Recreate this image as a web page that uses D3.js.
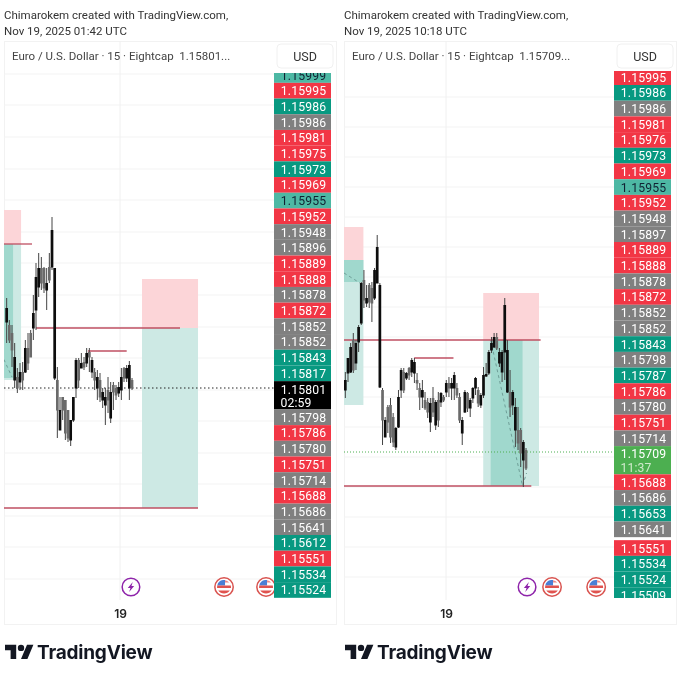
<!DOCTYPE html>
<html>
<head>
<meta charset="utf-8">
<script src="https://cdn.jsdelivr.net/npm/d3@7"></script>
<style>
  body { margin: 0; background: #fff; }
  svg { filter: blur(0.3px); }
  text { font-family: Roboto, Inter, sans-serif; }
</style>
</head>
<body>
<svg width="680" height="680"></svg>
<script>
// left snapshot, candles
var leftOpen = [1.15867,1.15864,1.15856,1.15809,1.15812,1.15807,1.15817,1.15817,1.15841,1.15856,1.15861,1.15879,1.15902,1.15921,1.15921,1.15899,1.15922,1.15922,1.15811,1.15809,1.15759,1.15792,1.15789,1.15779,1.15749,1.15769,1.15801,1.15829,1.15821,1.15827,1.15826,1.15837,1.15817,1.15817,1.15801,1.15809,1.15789,1.15784,1.15799,1.15771,1.15804,1.15801,1.15796,1.15799,1.15821,1.15811,1.15801,1.15809];
var leftHigh = [1.15891,1.15869,1.15864,1.15846,1.15821,1.15826,1.15827,1.15849,1.15856,1.15859,1.15894,1.15926,1.15936,1.15932,1.15922,1.15921,1.15936,1.15972,1.15921,1.15822,1.15792,1.15792,1.15789,1.15779,1.15769,1.15792,1.15831,1.15831,1.15836,1.15832,1.15841,1.15841,1.15832,1.15821,1.15819,1.15816,1.15801,1.15801,1.15812,1.15807,1.15807,1.15804,1.15807,1.15821,1.15822,1.15824,1.15828,1.15811];
var leftLow = [1.15846,1.15846,1.15822,1.15801,1.15796,1.15799,1.15799,1.15816,1.15819,1.15832,1.15849,1.15859,1.15892,1.15899,1.15896,1.15879,1.15906,1.15919,1.15809,1.15751,1.15759,1.15769,1.15749,1.15747,1.15743,1.15767,1.15791,1.15801,1.15821,1.15819,1.15822,1.15817,1.15811,1.15799,1.15789,1.15787,1.15781,1.15764,1.15776,1.15766,1.15779,1.15789,1.15792,1.15789,1.15807,1.15807,1.15789,1.15799];
var leftClose = [1.15881,1.15849,1.15839,1.15832,1.15801,1.15817,1.15809,1.15841,1.15826,1.15832,1.15876,1.15912,1.15921,1.15906,1.15901,1.15906,1.15909,1.15959,1.15921,1.15779,1.15779,1.15779,1.15756,1.15751,1.15769,1.15792,1.15829,1.15809,1.15826,1.15822,1.15836,1.15832,1.15829,1.15809,1.15812,1.15792,1.15797,1.15792,1.15789,1.15797,1.15797,1.15794,1.15802,1.15812,1.15811,1.15821,1.15824,1.15801];

// right snapshot, candles
var rightOpen = [1.15771,1.15788,1.15789,1.15821,1.15798,1.15819,1.15838,1.15881,1.15858,1.15876,1.15873,1.15863,1.15878,1.15774,1.15771,1.15724,1.15754,1.15756,1.15744,1.15714,1.15734,1.15771,1.15789,1.15783,1.15793,1.15789,1.15788,1.15781,1.15773,1.15764,1.15761,1.15759,1.15739,1.15763,1.15736,1.15761,1.15759,1.15764,1.15769,1.15778,1.15773,1.15773,1.15773,1.15764,1.15728,1.15749,1.15768,1.15753,1.15763,1.15773,1.15771,1.15756,1.15766,1.15785,1.15788,1.15811,1.15814,1.15824,1.15798,1.15789,1.15809,1.15769,1.15769,1.15756,1.15731,1.15731,1.15731,1.15701,1.15711];
var rightHigh = [1.15789,1.15803,1.15818,1.15828,1.15821,1.15836,1.15879,1.15891,1.15876,1.15878,1.15879,1.15893,1.15926,1.15878,1.15773,1.15744,1.15756,1.15763,1.15748,1.15734,1.15771,1.15793,1.15793,1.15789,1.15794,1.15803,1.15803,1.15788,1.15778,1.15781,1.15769,1.15763,1.15763,1.15774,1.15761,1.15769,1.15769,1.15766,1.15781,1.15784,1.15783,1.15789,1.15778,1.15768,1.15744,1.15771,1.15769,1.15763,1.15774,1.15784,1.15774,1.15768,1.15794,1.15798,1.15811,1.15824,1.15828,1.15828,1.15813,1.15811,1.15863,1.15821,1.15791,1.15771,1.15763,1.15754,1.15733,1.15721,1.15713];
var rightLow = [1.15763,1.15779,1.15788,1.15788,1.15791,1.15809,1.15836,1.15853,1.15854,1.15853,1.15839,1.15861,1.15878,1.15773,1.15716,1.15724,1.15728,1.15718,1.15714,1.15711,1.15733,1.15763,1.15768,1.15781,1.15781,1.15784,1.15778,1.15771,1.15751,1.15753,1.15751,1.15743,1.15729,1.15744,1.15731,1.15734,1.15754,1.15759,1.15764,1.15764,1.15761,1.15761,1.15763,1.15738,1.15716,1.15748,1.15749,1.15744,1.15758,1.15766,1.15754,1.15753,1.15763,1.15784,1.15786,1.15808,1.15813,1.15811,1.15794,1.15779,1.15781,1.15768,1.15744,1.15746,1.15714,1.15711,1.15694,1.15674,1.15691];
var rightClose = [1.15781,1.15803,1.15814,1.15791,1.15818,1.15834,1.15878,1.15861,1.15863,1.15859,1.15858,1.15891,1.15914,1.15876,1.15741,1.15741,1.15739,1.15724,1.15719,1.15733,1.15764,1.15791,1.15771,1.15788,1.15786,1.15801,1.15799,1.15778,1.15764,1.15771,1.15753,1.15749,1.15758,1.15749,1.15759,1.15741,1.15768,1.15761,1.15778,1.15773,1.15778,1.15786,1.15766,1.15741,1.15741,1.15769,1.15753,1.15761,1.15773,1.15783,1.15758,1.15766,1.15786,1.15787,1.15809,1.15818,1.15824,1.15813,1.15809,1.15809,1.15856,1.15811,1.15754,1.15769,1.15754,1.15718,1.15708,1.15719,1.15693];

// price labels on the axis (t = teal, r = red, g = grey, l = light teal, k = black now, n = green now)
var leftTags = ["1.15999","1.15995","1.15986","1.15986","1.15981","1.15975","1.15973","1.15969","1.15955","1.15952","1.15948","1.15896","1.15889","1.15888","1.15878","1.15872","1.15852","1.15852","1.15843","1.15817","1.15801","1.15798","1.15786","1.15780","1.15751","1.15714","1.15688","1.15686","1.15641","1.15612","1.15551","1.15534","1.15524"];
var leftKinds = "lrtgrrtrlrggrrgrggttkgrgrgrggtrtt".split("");
var rightTags = ["1.15995","1.15986","1.15986","1.15981","1.15976","1.15973","1.15969","1.15955","1.15952","1.15948","1.15897","1.15889","1.15888","1.15878","1.15872","1.15852","1.15852","1.15843","1.15798","1.15787","1.15786","1.15780","1.15751","1.15714","1.15709","1.15688","1.15686","1.15653","1.15641","1.15551","1.15534","1.15524","1.15509"];
var rightKinds = "rtgrrtrlrggrrgrggtgtrgrgnrgtgrttt".split("");

// grid prices
var leftGrid = [1.16115,1.16084,1.16052,1.16020,1.15989,1.15957,1.15926,1.15894,1.15862,1.15831,1.15799,1.15768,1.15736,1.15705,1.15673,1.15642,1.15610];
var rightGrid = [1.16064,1.16034,1.16004,1.15974,1.15944,1.15914,1.15884,1.15854,1.15824,1.15794,1.15764,1.15734,1.15704,1.15674,1.15644,1.15614,1.15584];

// drawings: [bar from, bar to, price top, price bottom]
var leftRedBoxes = [[-2,5.4,1.15979,1.15945],[50.75,71.75,1.15910,1.15861]];
var leftTealBoxes = [[-2,5.4,1.15945,1.15809],[50.75,71.75,1.15861,1.15681]];
var leftDarkBoxes = [[-2,2.4,1.15945,1.15811]];
var leftLines = [[-2,9.5,1.15945],[11,65,1.15861],[30.5,45,1.15838],[-2,71.75,1.15681]];
var leftDashes = [[[-2,1.15835],[2,1.15812]]];
var rightRedBoxes = [[-0.5,6.8,1.15934,1.15901],[51.9,72.9,1.15868,1.15821]];
var rightTealBoxes = [[-0.5,6.8,1.15901,1.15756],[51.9,72.9,1.15821,1.15675]];
var rightDarkBoxes = [[-0.5,6.8,1.15901,1.15879],[54.7,66.7,1.15821,1.15675]];
var rightLines = [[-0.5,73.5,1.15821],[25.9,40.7,1.15803],[-0.5,70,1.15675]];
var rightDashes = [[[-0.5,1.15888],[5.5,1.15878]],[[54.7,1.15821],[66.7,1.15675],[68.2,1.15688]]];

var panelColors = {t: "#089981", r: "#f23645", g: "#808080", l: "#4db8a4", k: "#000000", n: "#4caf50"};
var svg = d3.select("svg");

function drawPanel(o) {
  var x = d3.scaleLinear().domain([0, 100]).range([o.x0, o.x0 + 100 * o.step]);
  var y = d3.scaleLinear().domain([o.priceTop, o.priceTop - 0.006]).range([0, 600]);
  var tagX = o.left + 270;

  var clipId = "clip" + o.left;
  svg.append("clipPath").attr("id", clipId).append("rect")
      .attr("x", o.left).attr("y", 41).attr("width", 270).attr("height", 560);
  svg.append("clipPath").attr("id", clipId + "t").append("rect")
      .attr("x", tagX).attr("y", o.tagClip).attr("width", 57).attr("height", 598 - o.tagClip);

  // frame
  svg.append("rect")
      .attr("x", o.left + 0.5).attr("y", 41.5).attr("width", 332).attr("height", 583)
      .attr("fill", "none").attr("stroke", "#f2f2f2");

  var g = svg.append("g").attr("clip-path", "url(#" + clipId + ")");

  g.selectAll(".grid").data(o.grid).enter().append("line")
      .attr("x1", o.left).attr("x2", tagX)
      .attr("y1", function(d) { return y(d); }).attr("y2", function(d) { return y(d); })
      .attr("stroke", "#f3f3f3");

  g.append("line")
      .attr("x1", x(o.dayBar)).attr("x2", x(o.dayBar))
      .attr("y1", 41).attr("y2", 600)
      .attr("stroke", "#f0f0f0");

  function boxes(list, fill) {
    g.selectAll(null).data(list).enter().append("rect")
        .attr("x", function(d) { return x(d[0]); })
        .attr("width", function(d) { return x(d[1]) - x(d[0]); })
        .attr("y", function(d) { return y(d[2]); })
        .attr("height", function(d) { return y(d[3]) - y(d[2]); })
        .attr("fill", fill);
  }
  boxes(o.redBoxes, "#fcd5d8");
  boxes(o.tealBoxes, "#cde9e4");
  boxes(o.darkBoxes, "#a0d8cd");

  var dash = d3.line().x(function(d) { return x(d[0]); }).y(function(d) { return y(d[1]); });
  g.selectAll(null).data(o.dashes).enter().append("path")
      .attr("d", dash)
      .attr("fill", "none")
      .attr("stroke", "#6f9f98")
      .attr("stroke-dasharray", "3,3");

  g.selectAll(null).data(o.lines).enter().append("line")
      .attr("x1", function(d) { return x(d[0]); })
      .attr("x2", function(d) { return x(d[1]); })
      .attr("y1", function(d) { return y(d[2]); })
      .attr("y2", function(d) { return y(d[2]); })
      .attr("stroke", "#bf4f62")
      .attr("stroke-width", 1.3);

  // last price
  g.append("line")
      .attr("x1", o.left).attr("x2", tagX)
      .attr("y1", y(o.lastPrice)).attr("y2", y(o.lastPrice))
      .attr("stroke", o.lastColor)
      .attr("stroke-dasharray", o.lastDash);

  // candles
  var bars = d3.range(o.open.length);
  var candleColor = function(i) { return o.close[i] >= o.open[i] ? "#0d0d0d" : "#6a6a6a"; };
  g.selectAll(null).data(bars).enter().append("line")
      .attr("x1", function(i) { return x(i); }).attr("x2", function(i) { return x(i); })
      .attr("y1", function(i) { return y(o.high[i]); })
      .attr("y2", function(i) { return y(o.low[i]); })
      .attr("stroke", "#444");
  g.selectAll(null).data(bars).enter().append("rect")
      .attr("x", function(i) { return x(i) - 1.35; })
      .attr("width", 2.7)
      .attr("y", function(i) { return y(Math.max(o.open[i], o.close[i])); })
      .attr("height", function(i) { return Math.abs(y(o.open[i]) - y(o.close[i])) + 0.5; })
      .attr("fill", candleColor);

  // event markers
  var ev = svg.append("g");
  var spark = ev.selectAll(null).data(o.sparks).enter().append("g")
      .attr("transform", function(d) { return "translate(" + x(d) + ",587)"; });
  spark.append("circle").attr("r", 8.8).attr("fill", "#fff").attr("stroke", "#8e24aa").attr("stroke-width", 1.5);
  spark.append("path").attr("d", "M1.8,-5 L-3.2,1 L-0.5,1 L-1.8,5 L3.2,-1 L0.5,-1 Z").attr("fill", "#8e24aa");

  var flag = ev.selectAll(null).data(o.flags).enter().append("g")
      .attr("transform", function(d) { return "translate(" + x(d) + ",587)"; });
  flag.append("circle").attr("r", 9.2).attr("fill", "#fff").attr("stroke", "#d9534f").attr("stroke-width", 1.5);
  flag.append("path").attr("d", "M-6.8,-1.5 A7,7 0 0 1 -1,-6.9 L-1,-1.5 Z M-1,-6.9 A7,7 0 0 1 1,-6.9 L1,-1.5 L-1,-1.5 Z").attr("fill", "#4a7fd6");
  flag.append("path").attr("d", "M1,-1.5 L6.8,-1.5 L7,1 L-7,1 L-6.8,-1.5 Z M-5.8,3.5 L5.8,3.5 A7,7 0 0 1 -5.8,3.5 Z").attr("fill", "#e0534f");
  flag.append("path").attr("d", "M1,-6.7 A7,7 0 0 1 5.2,-4.6 L1,-4.6 Z").attr("fill", "#e88");

  // day label
  var axis = svg.append("g")
      .attr("transform", "translate(0,606)")
      .call(d3.axisBottom(x).tickValues([o.dayBar]).tickFormat(function() { return "19"; }).tickSize(0));
  axis.select(".domain").remove();
  axis.selectAll("text")
      .style("font-family", "Inter, sans-serif")
      .attr("font-size", 12).attr("font-weight", 600).attr("fill", "#222");

  // price tags, stacked from the top, a big jump leaves a small gap
  var tagLayer = svg.append("g").attr("clip-path", "url(#" + clipId + "t)");
  var rowH = 15.7, cursor = o.tagTop;
  o.tags.forEach(function(p, i) {
    var kind = o.kinds[i];
    var isNow = kind == "k" || kind == "n";
    if (i > 0 && +o.tags[i - 1] - +p > 0.0008) cursor += 3;
    var h = isNow ? rowH * 1.8 : rowH;
    tagLayer.append("rect")
        .attr("x", tagX).attr("y", cursor)
        .attr("width", 57).attr("height", h)
        .attr("fill", panelColors[kind]);
    tagLayer.append("text")
        .attr("x", tagX + 29.5).attr("y", cursor + rowH / 2 + 4.5)
        .attr("text-anchor", "middle")
        .attr("font-size", 12.2)
        .attr("letter-spacing", 0.15)
        .attr("fill", kind == "l" ? "#123" : "#fff")
        .text(p);
    if (isNow) {
      tagLayer.append("text")
          .attr("x", tagX + 22).attr("y", cursor + rowH * 1.38 + 4.5)
          .attr("text-anchor", "middle")
          .attr("font-size", 12.2)
          .attr("letter-spacing", 0.15)
          .attr("fill", kind == "k" ? "#fff" : "#cfeacb")
          .text(o.countdown);
    }
    cursor += h;
  });

  // header text
  svg.append("text").attr("x", o.left).attr("y", 19)
      .attr("font-size", 11.5).attr("fill", "#333")
      .text("Chimarokem created with TradingView.com,");
  svg.append("text").attr("x", o.left).attr("y", 35)
      .attr("font-size", 11.5).attr("fill", "#333")
      .text(o.stamp);
  svg.append("text").attr("x", o.left + 8).attr("y", 60)
      .attr("font-size", 11.5).attr("fill", "#444")
      .text(o.legend);

  svg.append("rect")
      .attr("x", tagX + 3).attr("y", 44).attr("width", 56).attr("height", 24).attr("rx", 4)
      .attr("fill", "#fff").attr("stroke", "#f0f0f0");
  svg.append("text").attr("x", tagX + 31).attr("y", 61)
      .attr("text-anchor", "middle").attr("font-size", 12.5).attr("fill", "#333")
      .text("USD");

  // logo
  var logo = svg.append("g").attr("transform", "translate(" + (o.left + 1) + ",641.5) scale(0.8)");
  logo.append("path").attr("d", "M14 22H7V11H0V4h14v18zM28 22h-8l7.5-18h8L28 22z").attr("fill", "#131722");
  logo.append("circle").attr("cx", 20).attr("cy", 8).attr("r", 4).attr("fill", "#131722");
  svg.append("text").attr("x", o.left + 33).attr("y", 659)
      .style("font-family", "Inter, sans-serif")
      .attr("font-size", 19).attr("font-weight", 700).attr("fill", "#131722")
      .attr("letter-spacing", -0.2)
      .text("TradingView");
}

drawPanel({
  left: 4, x0: 6.67, step: 2.667, priceTop: 1.16189, tagTop: 67.15, tagClip: 73,
  open: leftOpen, high: leftHigh, low: leftLow, close: leftClose,
  tags: leftTags, kinds: leftKinds, grid: leftGrid,
  redBoxes: leftRedBoxes, tealBoxes: leftTealBoxes, darkBoxes: leftDarkBoxes,
  lines: leftLines, dashes: leftDashes,
  lastPrice: 1.15801, lastColor: "#222", lastDash: "1.5,2.5", countdown: "02:59",
  dayBar: 42.5, sparks: [46.6], flags: [81.5, 97.25],
  stamp: "Nov 19, 2025 01:42 UTC",
  legend: "Euro / U.S. Dollar \u00b7 15 \u00b7 Eightcap\u00a0\u00a01.15801..."
});

drawPanel({
  left: 344, x0: 345.33, step: 2.657, priceTop: 1.16161, tagTop: 69.3, tagClip: 71,
  open: rightOpen, high: rightHigh, low: rightLow, close: rightClose,
  tags: rightTags, kinds: rightKinds, grid: rightGrid,
  redBoxes: rightRedBoxes, tealBoxes: rightTealBoxes, darkBoxes: rightDarkBoxes,
  lines: rightLines, dashes: rightDashes,
  lastPrice: 1.15709, lastColor: "#4caf50", lastDash: "1,2", countdown: "11:37",
  dayBar: 37.9, sparks: [68.4], flags: [77.8, 94.4],
  stamp: "Nov 19, 2025 10:18 UTC",
  legend: "Euro / U.S. Dollar \u00b7 15 \u00b7 Eightcap\u00a0\u00a01.15709..."
});
</script>
</body>
</html>
